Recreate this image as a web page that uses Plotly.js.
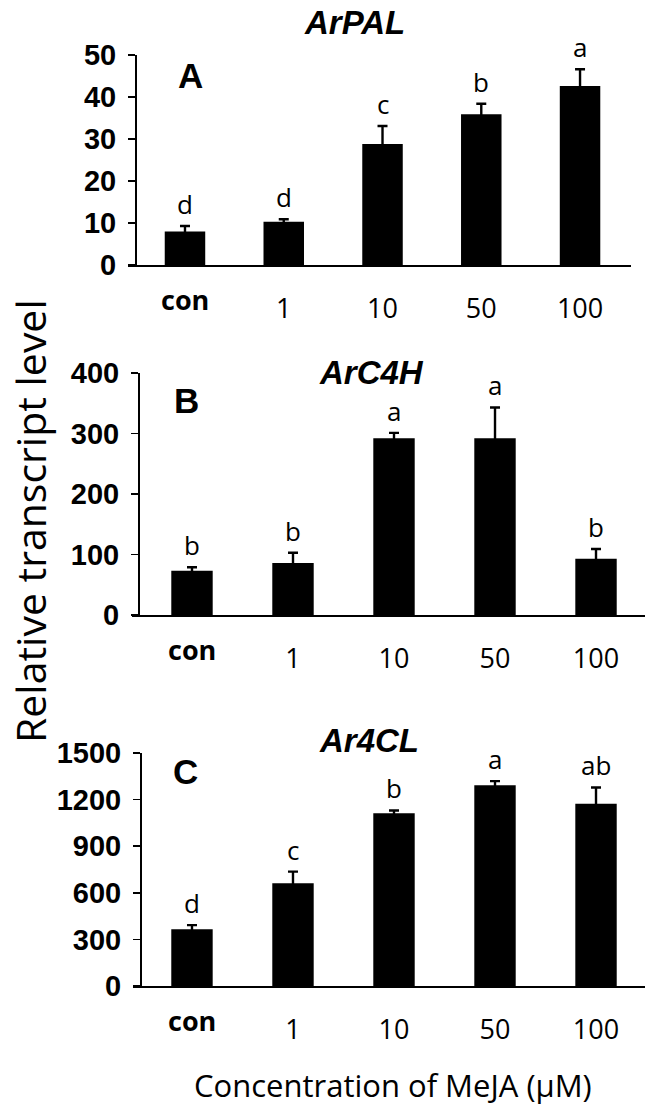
<!DOCTYPE html>
<html>
<head>
<meta charset="utf-8">
<script src="https://cdn.plot.ly/plotly-3.0.1.min.js"></script>
<style>
  html, body { margin: 0; padding: 0; background: #fff; }
  #plot { width: 654px; height: 1113px; }
</style>
</head>
<body>
<div id="plot"></div>
<script>
"use strict";

// DATA
const doses = ['con', '1', '10', '50', '100'];
// control label sits higher than the dose numbers, drawn as its own note
const doseText = ['', '1', '10', '50', '100'];
const conText = '<b>con</b>';

const palMean = [8.0, 10.3, 28.8, 35.9, 42.6];
const palErr = [1.3, 0.6, 4.3, 2.5, 4.0];
const palSig = ['d', 'd', 'c', 'b', 'a'];

const c4hMean = [73, 86, 292, 292, 93];
const c4hErr = [6, 17, 9, 51, 16];
const c4hSig = ['b', 'b', 'a', 'a', 'b'];

const clMean = [366, 661, 1112, 1293, 1173];
const clErr = [26, 75, 18, 26, 105];
const clSig = ['d', 'c', 'b', 'a', 'ab'];

const genes = ['ArPAL', 'ArC4H', 'Ar4CL'];
const panels = ['A', 'B', 'C'];

const yTicks = [
	[0, 10, 20, 30, 40, 50],
	[0, 100, 200, 300, 400],
	[0, 300, 600, 900, 1200, 1500]
];

const W = 654, H = 1113;
const px = v => v / W;
const py = v => 1 - v / H;

//TRACES
function barTrace(mean, err, n){
	return {
		type: 'bar',
		x: doses, y: mean,
		xaxis: 'x' + (n > 1 ? n : ''),
		yaxis: 'y' + (n > 1 ? n : ''),
		width: 0.41,
		marker: {color: '#000', line: {width: 0}},
		error_y: {type: 'data', array: err, visible: true, color: '#000', thickness: 2.4, width: 5},
		hoverinfo: 'skip',
		showlegend: false
	};
}

// letters above error bars; x given as category index
function sigNotes(mean, err, sig, n){
	const ax = (n > 1 ? n : '');
	const notes = sig.map((s, i) => ({
		text: s,
		x: i, y: mean[i] + err[i],
		xref: 'x' + ax, yref: 'y' + ax,
		yanchor: 'bottom', yshift: 2,
		showarrow: false,
		font: {family: 'Open Sans, sans-serif', size: 26, color: '#000'}
	}));
	notes.push({
		text: conText,
		x: 0, y: 0, xref: 'x' + ax, yref: 'y' + ax,
		yanchor: 'middle', yshift: -34,
		showarrow: false,
		font: {family: 'Open Sans, sans-serif', size: 27, color: '#000'}
	});
	return notes;
}

const data = [
	barTrace(palMean, palErr, 1),
	barTrace(c4hMean, c4hErr, 2),
	barTrace(clMean, clErr, 3)
];

//AXES
function xAxis(dom, rng, anchor){
	return {
		domain: dom, range: rng, anchor: anchor,
		type: 'category',
		showline: true, linecolor: '#000', linewidth: 1.6,
		ticks: '', showgrid: false, zeroline: false,
		tickvals: doses, ticktext: doseText,
		ticklabelstandoff: 19,
		tickfont: {family: 'Open Sans, sans-serif', size: 27, color: '#000'},
		fixedrange: true
	};
}

function yAxis(dom, rng, pos, tv){
	return {
		domain: dom, range: rng, anchor: 'free', position: pos,
		showline: true, linecolor: '#000', linewidth: 1.6,
		ticks: 'outside', ticklen: 7, tickwidth: 1.6, tickcolor: '#000',
		tickvals: tv,
		showgrid: false, zeroline: false,
		ticklabelstandoff: 6,
		tickfont: {family: 'Liberation Sans, Arial, sans-serif', size: 29, weight: 'bold', color: '#000'},
		fixedrange: true
	};
}

const layout = {
	width: W, height: H,
	margin: {l: 0, r: 0, t: 0, b: 0},
	paper_bgcolor: '#fff', plot_bgcolor: 'rgba(0,0,0,0)',
	bargap: 0.5,
	xaxis: xAxis([px(128), px(631)], [-0.577, 4.516], 'y'),
	yaxis: yAxis([py(265), py(55)], [0, 50], px(135), yTicks[0]),
	xaxis2: xAxis([px(132), px(645)], [-0.594, 4.485], 'y2'),
	yaxis2: yAxis([py(615), py(373)], [0, 400], px(138), yTicks[1]),
	xaxis3: xAxis([px(133), px(645)], [-0.584, 4.485], 'y3'),
	yaxis3: yAxis([py(986), py(753)], [0, 1500], px(140), yTicks[2]),
	annotations: []
};

// gene titles and panel letters
const titlePos = [[354, 22], [371, 372], [369, 740]];
const letterPos = [[190, 76], [186, 401], [185, 771]];
for(let i = 0; i < 3; i++){
	layout.annotations.push({
		text: '<b><i>' + genes[i] + '</i></b>',
		xref: 'paper', yref: 'paper', x: px(titlePos[i][0]), y: py(titlePos[i][1]),
		xanchor: 'center', yanchor: 'middle', showarrow: false,
		font: {family: 'Liberation Sans, Arial, sans-serif', size: 33, color: '#000'}
	});
	layout.annotations.push({
		text: '<b>' + panels[i] + '</b>',
		xref: 'paper', yref: 'paper', x: px(letterPos[i][0]), y: py(letterPos[i][1]),
		xanchor: 'center', yanchor: 'middle', showarrow: false,
		font: {family: 'Liberation Sans, Arial, sans-serif', size: 35, color: '#000'}
	});
}

layout.annotations.push(...sigNotes(palMean, palErr, palSig, 1));
layout.annotations.push(...sigNotes(c4hMean, c4hErr, c4hSig, 2));
layout.annotations.push(...sigNotes(clMean, clErr, clSig, 3));

// shared axis titles
layout.annotations.push({
	text: 'Relative transcript level',
	xref: 'paper', yref: 'paper', x: px(30), y: py(521),
	xanchor: 'center', yanchor: 'middle', textangle: -90, showarrow: false,
	font: {family: 'Open Sans, sans-serif', size: 41, color: '#000'}
});
layout.annotations.push({
	text: 'Concentration of MeJA (µM)',
	xref: 'paper', yref: 'paper', x: px(393), y: py(1085),
	xanchor: 'center', yanchor: 'middle', showarrow: false,
	font: {family: 'Open Sans, sans-serif', size: 31, color: '#000'}
});

Plotly.newPlot('plot', data, layout, {staticPlot: true, displayModeBar: false});
</script>
</body>
</html>
